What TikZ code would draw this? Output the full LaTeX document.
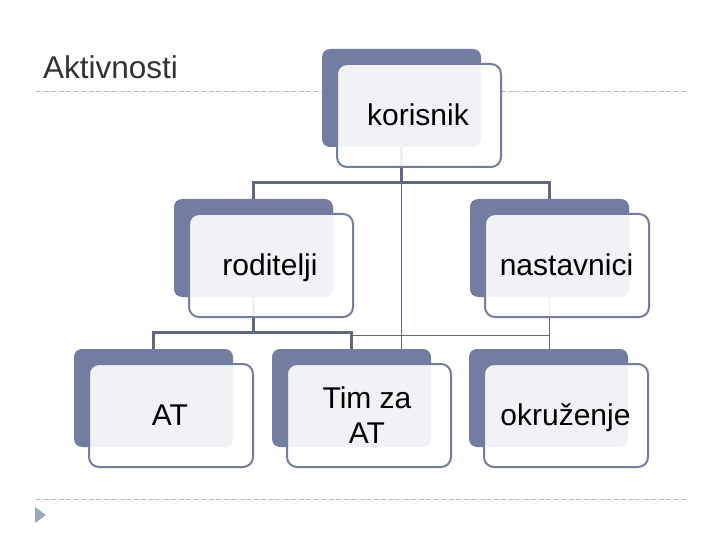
\documentclass[tikz,border=0pt]{standalone}
\usepackage{fontspec}
\setmainfont{Liberation Sans}
\pgfdeclarelayer{background}
\pgfdeclarelayer{bottom}
\pgfsetlayers{bottom,background,main}
\definecolor{dk}{RGB}{115,124,161}
\definecolor{ln}{RGB}{95,102,132}
\definecolor{dash}{RGB}{185,185,185}
\definecolor{tri}{RGB}{148,168,194}
\definecolor{ttl}{RGB}{50,50,50}
\tikzset{
  backbox/.style={fill=dk, rounded corners=8pt, minimum width=159pt, minimum height=98pt, inner sep=0pt, draw=none},
  frontbox/.style={draw=dk, line width=2pt, fill=white, fill opacity=0.9, rounded corners=10pt, minimum width=164pt, minimum height=103pt, inner sep=0pt},
  lbl/.style={font=\fontsize{30}{35}\selectfont, text=black, inner sep=0pt},
  thickline/.style={draw=ln, line width=3pt},
  thinline/.style={draw=ln, line width=1pt},
  midline/.style={draw=ln, line width=1.6pt},
  sep/.style={draw=dash, line width=0.9pt, dash pattern=on 5pt off 2.5pt},
}
\begin{document}
\begin{tikzpicture}[x=1pt,y=-1pt]
\begin{pgfonlayer}{bottom}
\fill[white] (0,0) rectangle (720,540);
\end{pgfonlayer}
\useasboundingbox (0,0) rectangle (720,540);
% separators
\coordinate (s1a) at (36,91); \coordinate (s1b) at (686,91);
\coordinate (s2a) at (36,499); \coordinate (s2b) at (686,499);
\draw[sep] (s1a) -- (s1b);
\draw[sep] (s2a) -- (s2b);
\fill[tri] (35,507) -- (46,515) -- (35,523) -- cycle;
% title
\node[anchor=base west, font=\fontsize{31.5}{38}\selectfont, text=ttl, inner sep=0pt] (title) at (43,79) {Aktivnosti};
% boxes: back (dark) and front (outline)
\node[backbox] (kd) at (401.5,98) {};
\node[frontbox] (kf) at (419,115.5) {};
\node[backbox] (rd) at (253.5,248) {};
\node[frontbox] (rf) at (271,265.5) {};
\node[backbox] (nd) at (549.5,248) {};
\node[frontbox] (nf) at (567,265.5) {};
\node[backbox] (ad) at (153.5,398) {};
\node[frontbox] (af) at (171,415.5) {};
\node[backbox] (td) at (351.5,398) {};
\node[frontbox] (tf) at (369,415.5) {};
\node[backbox] (od) at (548.5,398) {};
\node[frontbox] (of) at (566,415.5) {};
% labels
\node[lbl, anchor=base] (kt) at (418,126) {korisnik};
\node[lbl, anchor=base] (rt) at (270,275) {roditelji};
\node[lbl, anchor=base] (nt) at (566.5,275) {nastavnici};
\node[lbl, anchor=base] (at) at (170,425) {AT};
\node[lbl, align=center] (tt) at (367,415) {Tim za\\AT};
\node[lbl, anchor=base] (ot) at (565.5,425) {okruženje};
% connectors
\begin{pgfonlayer}{background}
\draw[thickline] (kd.south) -- ++(0,35) coordinate (kbar) -| (rd.north);
\draw[thickline] (kbar) -| (nd.north);
\draw[thickline] (rd.south) -- ++(0,35) coordinate (rbar) -| (ad.north);
\draw[thickline] (rbar) -| (td.north);
\draw[thinline] (kd.south) -- (kd.south |- td.north);
\draw[midline] (nd.south) -- (nd.south |- od.north);
\draw[thinline] (nd.south) -- ++(0,38) -| (td.north);
\end{pgfonlayer}
\end{tikzpicture}
\end{document}
